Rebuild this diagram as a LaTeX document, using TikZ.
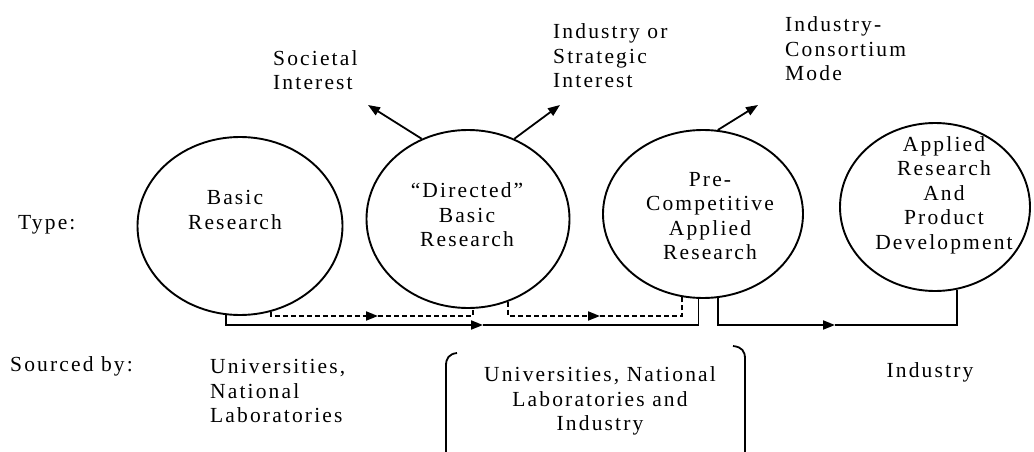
\documentclass[tikz,border=0pt]{standalone}
\usepackage{fontspec}
\setmainfont[LetterSpace=10]{Liberation Serif}
\usetikzlibrary{shapes.geometric,arrows.meta}
\begin{document}
\begin{tikzpicture}[x=1pt,y=-1pt,
  oval/.style={draw,ellipse,line width=1.9pt,inner sep=0pt},
  lbl/.style={font=\fontsize{21.5}{24.5}\selectfont,inner sep=0pt},
  conn/.style={line width=1.8pt},
  dconn/.style={line width=1.8pt,dash pattern=on 5pt off 3pt},
  tip/.style={-{Triangle[length=12pt,width=9pt]}},
]
\useasboundingbox[fill=white] (0,0) rectangle (1034,452);
% ellipses
\node[oval,minimum width=205pt,minimum height=178pt] (e1) at (240,226) {};
\node[oval,minimum width=203pt,minimum height=178pt] (e2) at (468,219) {};
\node[oval,minimum width=200pt,minimum height=168pt] (e3) at (703,214) {};
\node[oval,minimum width=190pt,minimum height=168pt] (e4) at (935,207) {};
% ellipse texts
\node[lbl,align=center] (t1) at (235,210) {Basic\\Research};
\node[lbl,align=center] (t2) at (467,215) {“Directed”\\Basic\\Research};
\node[lbl,align=center] (t3) at (710,216) {Pre-\\Competitive\\Applied\\Research};
\node[lbl,align=center] (t4) at (944,195) {Applied\\Research\\And\\Product\\Development};
% side labels
\node[lbl,anchor=west] (type) at (18,225) {Type:};
\node[lbl,anchor=west] (src) at (10,366) {Sourced by:};
\node[lbl,anchor=west,align=left] (s1) at (210,391) {Universities,\\National\\Laboratories};
\node[lbl,align=center] (s2) at (600,401) {Universities, National\\Laboratories and\\Industry};
\node[lbl] (s3) at (930,372) {Industry};
% top labels
\node[lbl,anchor=west,align=left] (i1) at (273,70) {Societal\\Interest};
\node[lbl,anchor=west,align=left] (i2) at (553,56) {Industry or\\Strategic\\Interest};
\node[lbl,anchor=west,align=left] (i3) at (785,49) {Industry-\\Consortium\\Mode};
% helper coordinates
\coordinate (solidy) at (0,325);
\coordinate (dashy) at (0,316);
\coordinate (m1) at (378,316);
\coordinate (m2) at (483,325);
\coordinate (m3) at (600,316);
\coordinate (m4) at (835,325);
\coordinate (p1) at (368,105);
\coordinate (p2) at (560,105);
\coordinate (p3) at (758,105);
% bottom connectors
\draw[conn,tip] (e1.-99) -- (e1.-99 |- solidy) -- (m2);
\draw[conn] (m2) -- (e3.-93 |- solidy) -- (e3.-93);
\draw[dconn,tip] (e1.-70) -- (e1.-70 |- dashy) -- (m1);
\draw[dconn] (m1) -- (e2.-87 |- dashy) -- (e2.-87);
\draw[dconn,tip] (e2.-64) -- (e2.-64 |- dashy) -- (m3);
\draw[dconn] (m3) -- (e3.-104 |- dashy) -- (e3.-104);
\draw[conn,tip] (e3.-80) -- (e3.-80 |- solidy) -- (m4);
\draw[conn] (m4) -- (e4.-75 |- solidy) -- (e4.-75);
% top arrows
\draw[conn,tip] (e2.120) -- (p1);
\draw[conn,tip] (e2.60) -- (p2);
\draw[conn,tip] (e3.80) -- (p3);
% brackets
\draw[line width=1.8pt] (457,353) .. controls (449,354) and (446,358) .. (446,366) -- (446,452);
\draw[line width=1.8pt] (733,346) .. controls (742,347) and (745,351) .. (745,359) -- (745,452);
\end{tikzpicture}
\end{document}
